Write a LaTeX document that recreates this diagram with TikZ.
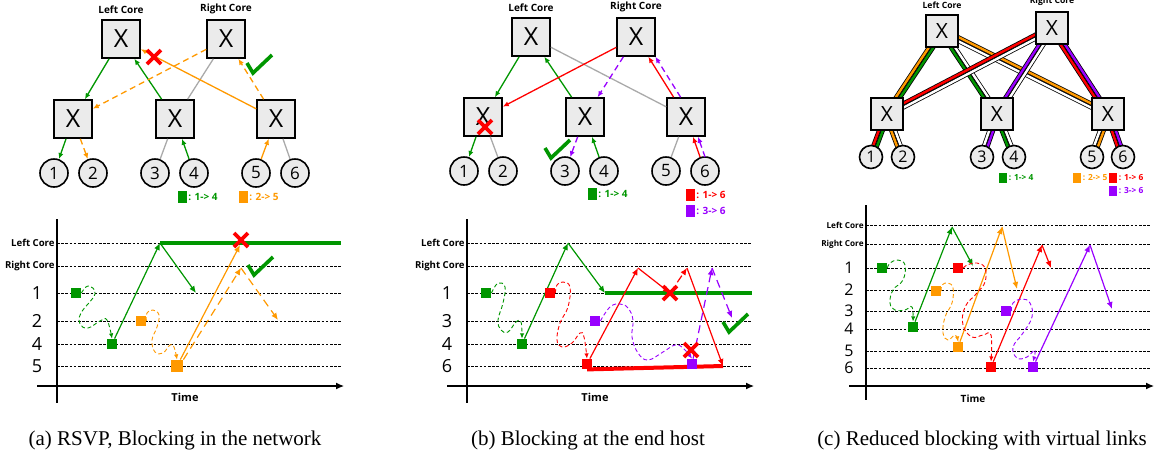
\documentclass[tikz,border=0pt]{standalone}
\usepackage{fontspec}
\setmainfont{Liberation Serif}
\newfontfamily\osans{Open Sans}
\usetikzlibrary{arrows.meta,positioning,calc,backgrounds}

\definecolor{swfill}{RGB}{235,235,235}
\definecolor{fgreen}{RGB}{0,150,0}
\definecolor{forange}{RGB}{255,153,0}
\definecolor{fred}{RGB}{255,0,0}
\definecolor{fpurple}{RGB}{153,0,255}
\definecolor{lnkgray}{RGB}{170,170,170}

\newcommand{\fattree}[3]{%
  \begin{scope}[shift={(#2,#3)}]
    \node[sw] (#1LC) at (121,39) {X};
    \node[sw] (#1RC) at (226,39) {X};
    \node[corelbl, above=2pt of #1LC] (#1LCt) {Left Core};
    \node[corelbl, above=2pt of #1RC] (#1RCt) {Right Core};
    \node[sw] (#1A1) at (73,119) {X};
    \node[sw] (#1A2) at (175,119) {X};
    \node[sw] (#1A3) at (276,119) {X};
    \foreach \hn/\xx in {1/54,2/93,3/155,4/194,5/256,6/295}
      \node[host] (#1H\hn) at (\xx,173) {\hn};
  \end{scope}}
\newcommand{\vlane}[5]{%
  \draw[line width=2pt] ($(#1)!0.95pt!#3:(#2)$) -- ($(#2)!0.95pt!#4:(#1)$);
  \draw[line width=1.2pt, #5] ($(#1)!0.95pt!#3:(#2)$) -- ($(#2)!0.95pt!#4:(#1)$);}
\newcommand{\vlink}[4]{\vlane{#1}{#2}{90}{-90}{#3}\vlane{#1}{#2}{-90}{90}{#4}}

\begin{document}
\begin{tikzpicture}[x=0.5pt, y=-0.5pt,
    sw/.style={draw, line width=0.8pt, fill=swfill, minimum size=19pt, inner sep=0pt, font=\osans\fontsize{12.5}{12.5}\selectfont},
    swc/.style={sw, minimum size=16pt, font=\osans\fontsize{10.5}{10.5}\selectfont},
    host/.style={draw, circle, line width=0.8pt, fill=swfill, minimum size=14pt, inner sep=0pt, font=\osans\fontsize{8.5}{8.5}\selectfont},
    hostc/.style={host, minimum size=11.5pt, font=\osans\fontsize{8}{8}\selectfont},
    corelbl/.style={font=\osans\bfseries\fontsize{5}{6}\selectfont, inner sep=0.5pt},
    legsq/.style={minimum width=4.5pt, minimum height=6pt, inner sep=0pt},
    legtxt/.style={font=\osans\bfseries\fontsize{5}{6}\selectfont, inner sep=0.5pt},
    ln/.style={line width=0.65pt},
    ar/.style={ln, -{Latex[length=3pt,width=2.6pt]}},
    dar/.style={ar, dash pattern=on 3pt off 2pt},
    tl/.style={line width=0.6pt, -{Latex[length=3.5pt,width=3pt]}},
    dtl/.style={tl, dash pattern=on 4pt off 2.5pt},
    wig/.style={line width=0.45pt, dash pattern=on 2pt off 1.3pt, -{Latex[length=2.6pt,width=2.2pt]}},
    sq/.style={minimum size=5pt, inner sep=0pt},
    lvl/.style={line width=0.45pt, dash pattern=on 1.3pt off 0.8pt},
    rowlbl/.style={font=\osans\fontsize{9}{9}\selectfont, inner sep=0pt},
    axlbl/.style={font=\osans\bfseries\fontsize{4.8}{5}\selectfont, inner sep=1pt, anchor=east},
    timelbl/.style={font=\osans\bfseries\fontsize{5.5}{6}\selectfont},
    hold/.style={line width=2pt},
    capt/.style={font=\rmfamily\fontsize{10.5}{12}\selectfont},
    xmark/.pic={\draw[fred, line width=1.8pt] (-7,-7) -- (7,7) (-7,7) -- (7,-7);},
    chk/.pic={\draw[fgreen, line width=1.8pt] (-7,-2) -- (-1,8) -- (18,-10);}]
  \useasboundingbox (0,0) rectangle (1156,457);

  % (a) network
  \fattree{a}{0}{0}
  \draw[ar, fgreen] (aLC) -- (aA1);
  \draw[ar, fgreen] (aA2) -- (aLC);
  \draw[dar, forange] (aRC) -- (aA1);
  \draw[ln, lnkgray] (aRC) -- (aA2);
  \draw[ar, forange] (aA3) -- (aLC);
  \draw[dar, forange] (aA3) -- (aRC);
  \draw[ar, fgreen] (aA1) -- (aH1);
  \draw[dar, forange] (aA1) -- (aH2);
  \draw[ln, lnkgray] (aA2) -- (aH3);
  \draw[ar, fgreen] (aH4) -- (aA2);
  \draw[ar, forange] (aH5) -- (aA3);
  \draw[ln, lnkgray] (aA3) -- (aH6);
  \pic at (154,57) {xmark};
  \pic at (254,65) {chk};
  \node[legsq, fill=fgreen] (aK1) at (182,197) {};
  \node[legtxt, text=fgreen, right=0pt of aK1] (aK1t) {: 1-> 4};
  \node[legsq, fill=forange] (aK2) at (243,197) {};
  \node[legtxt, text=forange, right=0pt of aK2] (aK2t) {: 2-> 5};

  % (a) timeline
  \draw[line width=0.6pt] (57,219) -- (57,403);
  \draw[line width=0.6pt, -{Latex[length=4pt,width=3.5pt]}] (37,386) -- (344,386);
  \node[timelbl] (aTime) at (185,397) {Time};
  \node[axlbl] (aRowLC) at (57,243) {Left Core};
  \node[axlbl] (aRowRC) at (57,266) {Right Core};
  \foreach \yy/\tx in {293/1,321/2,344/4,366/5}
    \node[rowlbl] (aRow\tx) at (37,\yy) {\tx};
  \foreach \yy in {243,266,293,321,344,366}
    \draw[lvl] (57,\yy) -- (342,\yy);
  \node[sq, fill=fgreen] (aG1) at (76,293) {};
  \node[sq, fill=fgreen] (aG2) at (112,344) {};
  \coordinate (aGt) at (160,243);
  \coordinate (aGe) at (196,293);
  \coordinate (aGh) at (341,243);
  \draw[wig, fgreen] plot[smooth, tension=0.7] coordinates {(aG1.east) (88,286) (95,294) (81,313) (80,324) (88,328) (100,321) (107,320) (aG2.north)};
  \draw[hold, fgreen] (aGt) -- (aGh);
  \draw[tl, fgreen] (aG2) -- (aGt);
  \draw[tl, fgreen] (aGt) -- (aGe);
  \node[sq, fill=forange] (aO1) at (141,321) {};
  \node[sq, fill=forange, minimum size=6pt] (aO2) at (177,366) {};
  \coordinate (aOt) at (240,245);
  \coordinate (aOr) at (241,268);
  \coordinate (aOe) at (278,320);
  \draw[wig, forange] plot[smooth, tension=0.7] coordinates {(aO1.east) (147,313) (153,310) (159,315) (157,327) (152,340) (155,352) (163,353) (170,345) (174,347) (aO2.north)};
  \draw[tl, forange] (aO2) -- (aOt);
  \draw[dtl, forange] (aO2.north east) -- (aOr);
  \draw[dtl, forange] (aOr) -- (aOe);
  \pic at (241,240) {xmark};
  \pic at (255,267) {chk};
  \node[capt] (aCap) at (175,440) {(a) RSVP, Blocking in the network};

  % (b) network
  \fattree{b}{410}{-2}
  \draw[ar, fgreen] (bLC) -- (bA1);
  \draw[ar, fgreen] (bA2) -- (bLC);
  \draw[ln, lnkgray] (bLC) -- (bA3);
  \draw[ar, fred] (bRC) -- (bA1);
  \draw[dar, fpurple] (bRC) -- (bA2);
  \draw[ar, fred] (bA3) -- (bRC);
  \draw[dar, fpurple, transform canvas={xshift=3.5pt}] (bA3) -- (bRC);
  \draw[ar, fgreen] (bA1) -- (bH1);
  \draw[ln, lnkgray] (bA1) -- (bH2);
  \draw[dar, fpurple] (bA2) -- (bH3);
  \draw[ar, fgreen] (bH4) -- (bA2);
  \draw[ln, lnkgray] (bA3) -- (bH5);
  \draw[ar, fred] (bH6) -- (bA3);
  \draw[dar, fpurple, transform canvas={xshift=2.5pt}] (bH6) -- (bA3);
  \pic at (485,127) {xmark};
  \pic at (552,150) {chk};
  \node[legsq, fill=fgreen] (bK1) at (592,194) {};
  \node[legtxt, text=fgreen, right=0pt of bK1] (bK1t) {: 1-> 4};
  \node[legsq, fill=fred] (bK2) at (690,195) {};
  \node[legtxt, text=fred, right=0pt of bK2] (bK2t) {: 1-> 6};
  \node[legsq, fill=fpurple] (bK3) at (690,211) {};
  \node[legtxt, text=fpurple, right=0pt of bK3] (bK3t) {: 3-> 6};

  % (b) timeline
  \draw[line width=0.6pt] (467,219) -- (467,403);
  \draw[line width=0.6pt, -{Latex[length=4pt,width=3.5pt]}] (447,386) -- (754,386);
  \node[timelbl] (bTime) at (595,397) {Time};
  \node[axlbl] (bRowLC) at (467,243) {Left Core};
  \node[axlbl] (bRowRC) at (467,266) {Right Core};
  \foreach \yy/\tx in {293/1,321/3,344/4,366/6}
    \node[rowlbl] (bRow\tx) at (447,\yy) {\tx};
  \foreach \yy in {243,266,293,321,344,366}
    \draw[lvl] (467,\yy) -- (752,\yy);
  \node[sq, fill=fgreen] (bG1) at (486,293) {};
  \node[sq, fill=fgreen] (bG2) at (522,344) {};
  \coordinate (bGt) at (568,243);
  \coordinate (bGe) at (605,293);
  \coordinate (bGh) at (752,293);
  \draw[wig, fgreen] plot[smooth, tension=0.7] coordinates {(bG1.east) (498,283) (505,287) (503,303) (498,320) (501,330) (508,332) (516,322) (521,322) (bG2.north)};
  \draw[hold, fgreen] (bGe) -- (bGh);
  \draw[tl, fgreen] (bG2) -- (bGt);
  \draw[tl, fgreen] (bGt) -- (bGe);
  \node[sq, fill=fred] (bR1) at (550,293) {};
  \node[sq, fill=fred] (bR2) at (587,364) {};
  \coordinate (bRt1) at (638,268);
  \coordinate (bRx) at (670,293);
  \coordinate (bRt2) at (687,268);
  \coordinate (bRe) at (723,366);
  \draw[wig, fred] plot[smooth, tension=0.7] coordinates {(bR1.east) (557,285) (563,282) (570,287) (568,307) (560,323) (557,340) (562,347) (572,343) (580,333) (584,337) (bR2.north)};
  \draw[hold, fred] (bR2.south) -- (bRe);
  \draw[tl, fred] (bR2) -- (bRt1);
  \draw[tl, fred] (bRt1) -- (bRx);
  \draw[dtl, fred] (bRx) -- (bRt2);
  \draw[tl, fred] (bRt2) -- (bRe);
  \node[sq, fill=fpurple] (bP1) at (595,321) {};
  \node[sq, fill=fpurple] (bP2) at (692,364) {};
  \coordinate (bPt) at (712,268);
  \coordinate (bPe) at (732,318);
  \draw[wig, fpurple] plot[smooth, tension=0.7] coordinates {(bP1.east) (610,307) (620,304) (628,308) (633,320) (632,337) (638,353) (648,360) (663,352) (675,345) (683,348) (bP2.north)};
  \draw[dtl, fpurple] (bP2) -- (bPt);
  \draw[dtl, fpurple] (bPt) -- (bPe);
  \pic at (670,293) {xmark};
  \pic at (691,350) {xmark};
  \pic at (730,324) {chk};
  \node[capt] (bCap) at (588,440) {(b) Blocking at the end host};

  % (c) network
  \node[swc] (cLC) at (942,31) {X};
  \node[swc] (cRC) at (1052,28) {X};
  \node[corelbl, font=\osans\bfseries\fontsize{4.3}{5}\selectfont, above=2pt of cLC] (cLCt) {Left Core};
  \node[corelbl, font=\osans\bfseries\fontsize{4.3}{5}\selectfont, above=2pt of cRC] (cRCt) {Right Core};
  \node[swc] (cA1) at (887,114) {X};
  \node[swc] (cA2) at (997,114) {X};
  \node[swc] (cA3) at (1108,114) {X};
  \foreach \hn/\xx in {1/871,2/903,3/982,4/1014,5/1092,6/1123}
    \node[hostc] (cH\hn) at (\xx,157) {\hn};
  \begin{scope}[on background layer]
    \vlink{cLC}{cA1}{fgreen}{forange}
    \vlink{cLC}{cA2}{white}{fgreen}
    \vlink{cLC}{cA3}{forange}{white}
    \vlink{cRC}{cA1}{white}{fred}
    \vlink{cRC}{cA2}{white}{fpurple}
    \vlink{cRC}{cA3}{fpurple}{fred}
    \vlink{cA1}{cH1}{fgreen}{fred}
    \vlink{cA1}{cH2}{white}{forange}
    \vlink{cA2}{cH3}{fpurple}{white}
    \vlink{cA2}{cH4}{white}{fgreen}
    \vlink{cA3}{cH5}{forange}{white}
    \vlink{cA3}{cH6}{fpurple}{fred}
  \end{scope}
  \node[legsq, minimum width=4pt, minimum height=5pt, fill=fgreen] (cK1) at (1003,178) {};
  \node[legtxt, font=\osans\bfseries\fontsize{4.2}{5}\selectfont, text=fgreen, right=0pt of cK1] (cK1t) {: 1-> 4};
  \node[legsq, minimum width=4pt, minimum height=5pt, fill=forange] (cK2) at (1077,178) {};
  \node[legtxt, font=\osans\bfseries\fontsize{4.2}{5}\selectfont, text=forange, right=0pt of cK2] (cK2t) {: 2-> 5};
  \node[legsq, minimum width=4pt, minimum height=5pt, fill=fred] (cK3) at (1113,178) {};
  \node[legtxt, font=\osans\bfseries\fontsize{4.2}{5}\selectfont, text=fred, right=0pt of cK3] (cK3t) {: 1-> 6};
  \node[legsq, minimum width=4pt, minimum height=5pt, fill=fpurple] (cK4) at (1113,191) {};
  \node[legtxt, font=\osans\bfseries\fontsize{4.2}{5}\selectfont, text=fpurple, right=0pt of cK4] (cK4t) {: 3-> 6};

  % (c) timeline
  \draw[line width=0.6pt] (866,205) -- (866,400);
  \draw[line width=0.6pt, -{Latex[length=4pt,width=3.5pt]}] (849,386) -- (1154,386);
  \node[timelbl, font=\osans\bfseries\fontsize{5}{6}\selectfont] (cTime) at (973,399) {Time};
  \node[axlbl, font=\osans\bfseries\fontsize{4.1}{5}\selectfont] (cRowLC) at (866,225) {Left Core};
  \node[axlbl, font=\osans\bfseries\fontsize{4.1}{5}\selectfont] (cRowRC) at (866,244) {Right Core};
  \foreach \yy/\tx in {268/1,290/2,311/3,329/4,351/5,368/6}
    \node[rowlbl, font=\osans\fontsize{8}{8}\selectfont] (cRow\tx) at (849,\yy) {\tx};
  \foreach \yy in {225,244,268,290,311,329,351,368}
    \draw[lvl] (866,\yy) -- (1151,\yy);
  \node[sq, fill=fgreen] (cG1) at (882,268) {};
  \node[sq, fill=fgreen] (cG2) at (913,327) {};
  \coordinate (cGt) at (952,227);
  \coordinate (cGe) at (973,266);
  \draw[wig, fgreen] plot[smooth, tension=0.7] coordinates {(cG1.east) (890,263) (898,260) (905,265) (903,280) (893,290) (890,303) (895,310) (905,310) (912,307) (cG2.north)};
  \draw[tl, fgreen] (cG2) -- (cGt);
  \draw[tl, fgreen] (cGt) -- (cGe);
  \node[sq, fill=forange] (cO1) at (936,291) {};
  \node[sq, fill=forange] (cO2) at (958,347) {};
  \coordinate (cOt) at (1002,227);
  \coordinate (cOe) at (1017,289);
  \draw[wig, forange] plot[smooth, tension=0.7] coordinates {(cO1.east) (942,285) (948,283) (953,288) (952,303) (945,317) (943,333) (948,340) (955,335) (cO2.north)};
  \draw[tl, forange] (cO2) -- (cOt);
  \draw[tl, forange] (cOt) -- (cOe);
  \node[sq, fill=fred] (cR1) at (958,268) {};
  \node[sq, fill=fred] (cR2) at (991,367) {};
  \coordinate (cRt) at (1042,245);
  \coordinate (cRe) at (1051,268);
  \draw[wig, fred] plot[smooth, tension=0.7] coordinates {(cR1.east) (967,265) (977,263) (985,268) (985,282) (977,293) (965,307) (963,325) (972,337) (983,335) (991,335) (cR2.north)};
  \draw[tl, fred] (cR2) -- (cRt);
  \draw[tl, fred] (cRt) -- (cRe);
  \node[sq, fill=fpurple] (cP1) at (1006,311) {};
  \node[sq, fill=fpurple] (cP2) at (1033,367) {};
  \coordinate (cPt) at (1090,245);
  \coordinate (cPe) at (1112,309);
  \draw[wig, fpurple] plot[smooth, tension=0.7] coordinates {(cP1.east) (1013,303) (1022,299) (1030,303) (1032,317) (1023,333) (1013,347) (1017,358) (1027,357) (1035,350) (cP2.north)};
  \draw[tl, fpurple] (cP2) -- (cPt);
  \draw[tl, fpurple] (cPt) -- (cPe);
  \node[capt] (cCap) at (982,440) {(c) Reduced blocking with virtual links};
\end{tikzpicture}
\end{document}
